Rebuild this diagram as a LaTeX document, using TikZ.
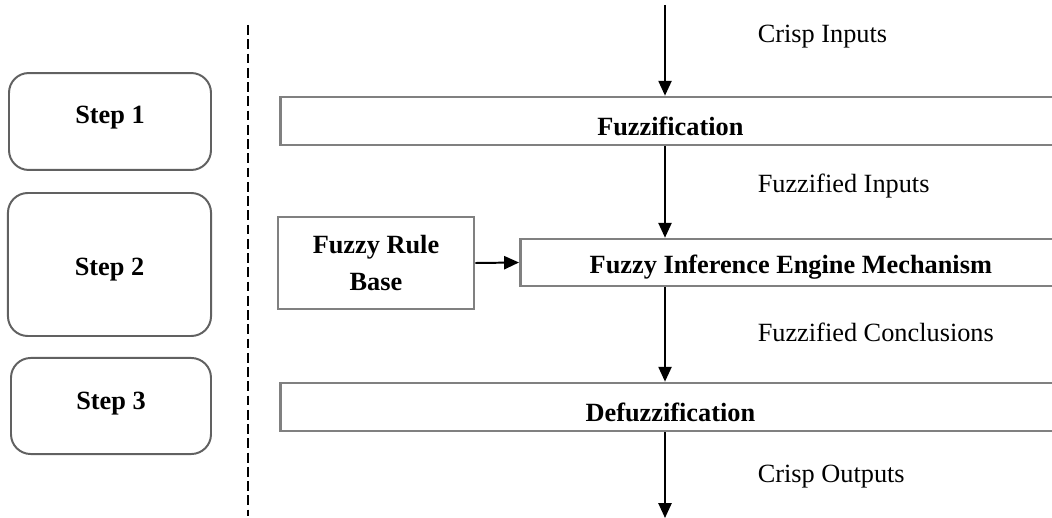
\documentclass[tikz,border=0pt]{standalone}
\usepackage{fontspec}
\setmainfont{Liberation Serif}
\usetikzlibrary{arrows.meta}

\begin{document}
\begin{tikzpicture}[x = 0.456pt, y = -0.456pt,
        every node/.style = {font=\fontsize{12}{16.9}\selectfont},
        stepbox/.style = {draw=black!62, line width=0.9pt, rounded corners=9pt, font=\fontsize{12}{16.9}\selectfont\bfseries},
        procbox/.style = {draw=black!50, line width=1.2pt, font=\fontsize{12}{16.9}\selectfont\bfseries},
        arr/.style = {black, line width=0.9pt, -{Triangle[length=6.8pt, width=6pt]}}]
                \clip (0,0) rectangle (1052,518);
                \fill[white] (0,0) rectangle (1052,518);
                % steps on the left
                \node[stepbox, minimum width=92.1pt, minimum height=44.2pt, text height=8.5pt, text depth=6.3pt] (s1) at (110,121.5) {Step 1};
                \node[stepbox, minimum width=92.6pt, minimum height=65.2pt, text height=12.2pt, text depth=2.6pt] (s2) at (109.5,264.5) {Step 2};
                \node[stepbox, minimum width=91.2pt, minimum height=43.8pt, text height=8.5pt, text depth=4.9pt] (s3) at (111,406) {Step 3};
                \draw[black, line width=0.9pt, dash pattern=on 4.5pt off 2pt] (248,25) -- (248,516);
                % process boxes
                \node[procbox, minimum width=355.7pt, minimum height=21.9pt, text height=12.8pt, text depth=0pt, anchor=west] (fuz) at (279,121) {Fuzzification};
                \node[procbox, minimum width=246.7pt, minimum height=21.4pt, text height=9.6pt, text depth=0pt, anchor=west] (inf) at (519,262.5) {Fuzzy Inference Engine Mechanism};
                \node[procbox, minimum width=355.7pt, minimum height=21.9pt, text height=12.8pt, text depth=0pt, anchor=west] (def) at (279,407) {Defuzzification};
                \node[procbox, align=center, minimum width=89.4pt, minimum height=42pt] (rule) at (376,263) {Fuzzy Rule\\Base};
                % flow
                \coordinate (top) at (665,5);
                \coordinate (bot) at (665,518);
                \draw[arr] (top) -- (top |- fuz.north);
                \draw[arr] (fuz.south -| top) -- (inf.north -| top);
                \draw[arr] (inf.south -| top) -- (def.north -| top);
                \draw[arr] (def.south -| top) -- (bot);
                \draw[arr] (rule.east) -- (inf.west);
                \node[anchor=base west] (lin) at (750,43) {Crisp Inputs};
                \node[anchor=base west] (lfin) at (750,193) {Fuzzified Inputs};
                \node[anchor=base west] (lfc) at (750,341) {Fuzzified Conclusions};
                \node[anchor=base west] (lout) at (750,482) {Crisp Outputs};

            \end{tikzpicture}
\end{document}
